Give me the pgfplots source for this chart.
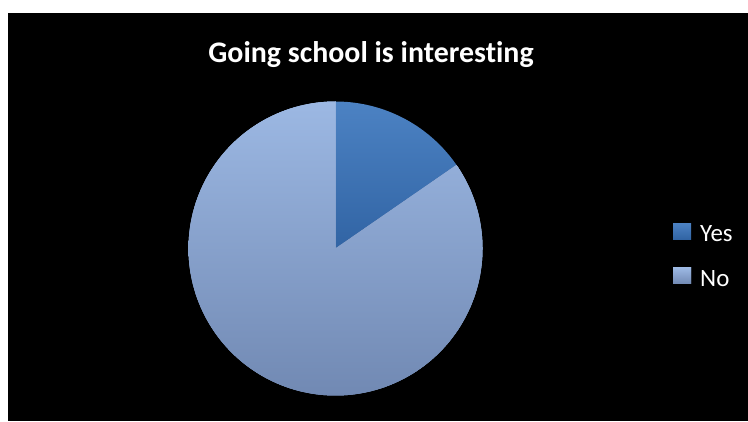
\documentclass[border=0pt]{standalone}
\usepackage{pgfplots}
\pgfplotsset{compat=1.18}
\usepackage{pgfplotstable}
\usepackage{fontspec}
\setmainfont{Carlito}[Ligatures=NoCommon]

\definecolor{yesTop}{HTML}{4C82C3}
\definecolor{yesBot}{HTML}{3164A4}
\definecolor{noTop}{HTML}{9CB8E3}
\definecolor{noBot}{HTML}{7189B3}

\pgfplotstableread{
label value
Yes 2
No 11
}\piedata

\begin{document}
\begin{tikzpicture}[x=1bp,y=1bp]
\fill[white] (0,0) rectangle (748,421);
\fill[black] (8,0) rectangle (748,408);
\pgfplotstablegetelem{0}{value}\of\piedata \let\vyes\pgfplotsretval
\pgfplotstablegetelem{1}{value}\of\piedata \let\vno\pgfplotsretval
\pgfmathsetmacro\angyes{360*\vyes/(\vyes+\vno)}
\pgfmathsetmacro\ystart{90-\angyes}
\pgfmathsetmacro\nend{450-\angyes}
\begin{axis}[
  at={(0,0)}, anchor=south west,
  scale only axis, width=748bp, height=421bp,
  xmin=0, xmax=748, ymin=0, ymax=421,
  hide axis, clip=false,
  legend image code/.code={\path[#1] (0bp,-5bp) rectangle (18bp,11bp);},
  legend style={at={(axis cs:673,198)}, anchor=north west, draw=none, fill=none,
    inner sep=0pt, row sep=25bp, column sep=9bp,
    font=\fontsize{25}{30}\selectfont, text=white,
    nodes={inner sep=0pt, text=white}},
  legend cell align=left,
]
\addplot[top color=yesTop, bottom color=yesBot, draw=none,
  domain=\ystart:90, samples=61, variable=\t]
  ({335.5+147*cos(\t)},{172.5+147*sin(\t)}) -- (axis cs:335.5,172.5) -- cycle;
\addlegendentry{Yes}
\addplot[top color=noTop, bottom color=noBot, draw=none,
  preaction={fill=noTop!50!noBot},
  domain=90:\nend, samples=241, variable=\t]
  ({335.5+147*cos(\t)},{172.5+147*sin(\t)}) -- (axis cs:335.5,172.5) -- cycle;
\addlegendentry{No}
\node[anchor=base, text=white, font=\bfseries\fontsize{30}{36}\selectfont]
  at (axis cs:371,358) {Going school is interesting};
\end{axis}
\end{tikzpicture}
\end{document}
